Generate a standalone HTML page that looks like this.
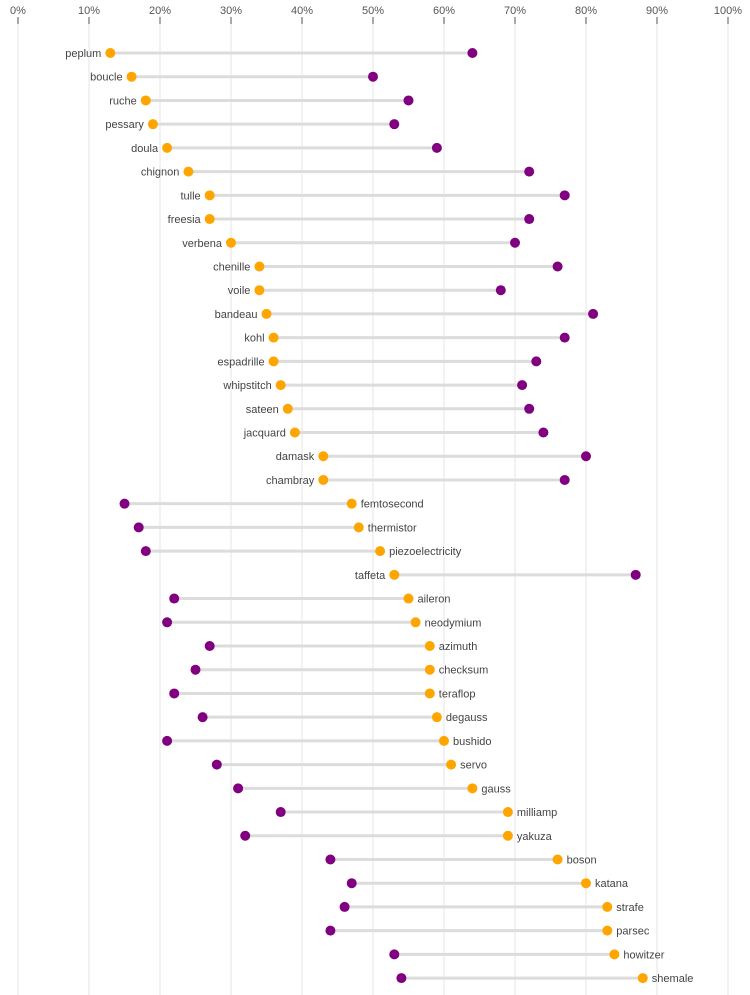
<!DOCTYPE html>
<html><head><meta charset="utf-8"><style>
body{margin:0;background:#fff;}
svg{display:block;font-family:"Liberation Sans",sans-serif;}
</style></head><body>
<svg id="chart" width="750" height="995"></svg>
<script>
const categories=["peplum","boucle","ruche","pessary","doula","chignon","tulle","freesia","verbena","chenille","voile","bandeau","kohl","espadrille","whipstitch","sateen","jacquard","damask","chambray","femtosecond","thermistor","piezoelectricity","taffeta","aileron","neodymium","azimuth","checksum","teraflop","degauss","bushido","servo","gauss","milliamp","yakuza","boson","katana","strafe","parsec","howitzer","shemale"];
const orangeValues=[13,16,18,19,21,24,27,27,30,34,34,35,36,36,37,38,39,43,43,47,48,51,53,55,56,58,58,58,59,60,61,64,69,69,76,80,83,83,84,88];
const purpleValues=[64,50,55,53,59,72,77,72,70,76,68,81,77,73,71,72,74,80,77,15,17,18,87,22,21,27,25,22,26,21,28,31,37,32,44,47,46,44,53,54];
const tickValues=[0,10,20,30,40,50,60,70,80,90,100];
const NS="http://www.w3.org/2000/svg";
const svg=document.getElementById('chart');
const x=v=>18+v*7.1;
const y=i=>53+i*23.72;
function mk(t,a,p){const e=document.createElementNS(NS,t);for(const k in a)e.setAttribute(k,a[k]);(p||svg).appendChild(e);return e;}
tickValues.forEach(t=>{
  const g=mk('line',{x1:x(t),x2:x(t),y1:24,y2:995,stroke:'#e6e6e6','stroke-width':1});
  
  
  const tk=mk('line',{x1:x(t),x2:x(t),y1:17,y2:24,stroke:'#555','stroke-width':1});
  
  
  const l=mk('text',{x:x(t),y:14,'text-anchor':'middle','font-size':11,fill:'#555'});
  l.textContent=t+'%';
  
  
});
categories.forEach((c,i)=>{
  const o=orangeValues[i],p=purpleValues[i],yy=y(i);
  const ln=mk('line',{x1:x(o),x2:x(p),y1:yy,y2:yy,stroke:'#dcdcdc','stroke-width':3});
  
  
  const pc=mk('circle',{cx:x(p),cy:yy,r:5,fill:'#800080'});
  
  
  const oc=mk('circle',{cx:x(o),cy:yy,r:5,fill:'#ffa500'});
  
  
  const left=o<p;
  const t=mk('text',{x:left?x(o)-9:x(o)+9,y:yy+4,'text-anchor':left?'end':'start','font-size':11,fill:'#444'});
  t.textContent=c;
  
  
});
</script>
</body></html>
